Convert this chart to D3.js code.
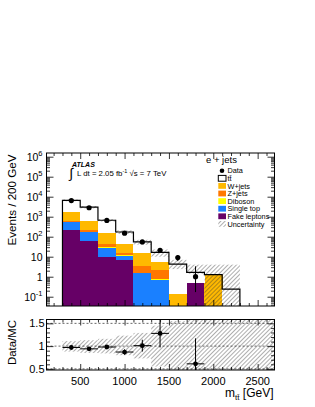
<!DOCTYPE html>
<html>
<head>
<meta charset="utf-8">
<script src="https://cdn.jsdelivr.net/npm/d3@7"></script>
<style>
  body { margin: 0; background: #fff; }
  svg { display: block; font-family: "Liberation Sans", Arial, sans-serif; }
</style>
</head>
<body>
<svg width="315" height="407"></svg>
<script>
// bins of 200 GeV
const binLow  = [300, 500, 700, 900, 1100, 1300, 1500, 1700, 1900, 2100];
const binHigh = [500, 700, 900, 1100, 1300, 1500, 1700, 1900, 2100, 2300];

// stacked backgrounds, bottom to top
const fakeLeptons = [224, 58, 9.6, 7.2, 0, 0, 0, 0.5, 0, 0];
const singleTop   = [300, 107, 19, 4.2, 1.5, 0.72, 0, 0, 0, 0];
const diboson     = [8, 3, 1, 0.3, 0.1, 0.05, 0, 0, 0, 0];
const zJets       = [100, 57, 13, 3.3, 1.7, 1.3, 0, 0, 0, 0];
const wJets       = [1008, 405, 110, 28, 11.7, 3.1, 0.14, 0, 1.26, 0];
const ttbar       = [4960, 2370, 510, 129, 39.5, 11.2, 4.16, 1.15, 0, 0.24];

// uncertainty band on the total
const uncLow  = [5900, 2600, 570, 138, 40, 10, 2.4, 1.4, 0.001, 0.001];
const uncHigh = [7300, 3400, 760, 208, 70, 23, 7, 4, 4, 4];

// data
const dataMass    = [400, 600, 800, 1000, 1200, 1400, 1600, 1800];
const dataEvents  = [6400, 2800, 650, 150, 55, 21, 9, 1];
const dataErrLow  = [80, 53, 25, 12, 7.4, 4.6, 3, 0.83];
const dataErrHigh = [80, 53, 25, 12, 7.4, 4.6, 3, 2.3];

// ratio panel
const ratioMass    = [400, 600, 800, 1000, 1200, 1400, 1800];
const ratioValue   = [0.97, 0.94, 0.98, 0.87, 1.01, 1.28, 0.61];
const ratioErrLow  = [0.03, 0.03, 0.04, 0.06, 0.13, 0.31, 0.6];
const ratioErrHigh = [0.03, 0.03, 0.04, 0.06, 0.13, 0.31, 0.56];
const ratioBandLow  = [0.88, 0.85, 0.84, 0.80, 0.73, 0.55, 0, 0, 0, 0, 0, 0];
const ratioBandHigh = [1.11, 1.13, 1.16, 1.23, 1.29, 1.45, 1.55, 2, 2, 2, 2, 2];
const ratioBinLow   = [300, 500, 700, 900, 1100, 1300, 1500, 1700, 1900, 2100, 2300, 2500];

const layerNames  = ["fake", "stop", "dib", "z", "w", "tt"];
const layerColors = ["#660066", "#1a80ff", "#ffff00", "#ff7700", "#ffb900", "#ffffff"];

const legendLabels = ["Data", "tt\u0304", "W+jets", "Z+jets", "Diboson", "Single top", "Fake leptons", "Uncertainty"];
const xTickLabels = [500, 1000, 1500, 2000, 2500];
const yMainTicks = [0.1, 1, 10, 100, 1e3, 1e4, 1e5, 1e6];
const yRatioTicks = [0.5, 1, 1.5];

const svg = d3.select("svg");

const L = 46.5, R = 274.5;
const mainTop = 153, mainBot = 306;
const ratTop = 319.5, ratBot = 370;

const x = d3.scaleLinear().domain([120, 2690]).range([L, R]);
const y = d3.scaleLog().domain([0.0343, 1.53e6]).range([mainBot, mainTop]);
const yr = d3.scaleLinear().domain([0.475, 1.585]).range([ratBot, ratTop]);
const yMin = y.domain()[0];

// hatch pattern
const defs = svg.append("defs");
defs.append("pattern")
    .attr("id", "hatch")
    .attr("patternUnits", "userSpaceOnUse")
    .attr("width", 3).attr("height", 3)
    .attr("patternTransform", "rotate(45)")
  .append("line")
    .attr("x1", 0).attr("y1", 0).attr("x2", 0).attr("y2", 3)
    .attr("stroke", "#333").attr("stroke-width", 0.8);
defs.append("clipPath").attr("id", "clipMain")
  .append("rect").attr("x", L).attr("y", mainTop).attr("width", R - L).attr("height", mainBot - mainTop);
defs.append("clipPath").attr("id", "clipRatio")
  .append("rect").attr("x", L).attr("y", ratTop).attr("width", R - L).attr("height", ratBot - ratTop);

// ---------- main panel ----------
const table = binLow.map((lo, i) => ({
  lo: lo, hi: binHigh[i],
  fake: fakeLeptons[i], stop: singleTop[i], dib: diboson[i],
  z: zJets[i], w: wJets[i], tt: ttbar[i]
}));
const series = d3.stack().keys(layerNames)(table);

const gMain = svg.append("g").attr("clip-path", "url(#clipMain)");

series.forEach((s, k) => {
  gMain.append("g").attr("shape-rendering", "crispEdges").selectAll("rect")
    .data(s.filter(d => d[1] - d[0] > 0))
    .enter().append("rect")
    .attr("x", d => x(d.data.lo))
    .attr("width", d => x(d.data.hi) - x(d.data.lo) + 0.5)
    .attr("y", d => y(d[1]))
    .attr("height", d => y(Math.max(d[0], yMin)) - y(d[1]))
    .attr("fill", layerColors[k]);
});

// uncertainty band
gMain.append("g").selectAll("rect")
  .data(binLow.map((lo, i) => ({ lo: lo, hi: binHigh[i], a: uncLow[i], b: uncHigh[i] })))
  .enter().append("rect")
  .attr("x", d => x(d.lo))
  .attr("width", d => x(d.hi) - x(d.lo))
  .attr("y", d => y(d.b))
  .attr("height", d => y(Math.max(d.a, yMin)) - y(d.b))
  .attr("fill", "url(#hatch)");

// total MC outline
const totalLayer = series[series.length - 1];
const pts = [[x(binLow[0]), mainBot]];
totalLayer.forEach(d => {
  pts.push([x(d.data.lo), y(d[1])]);
  pts.push([x(d.data.hi), y(d[1])]);
});
pts.push([x(binHigh[binHigh.length - 1]), mainBot]);
gMain.append("path")
  .attr("d", d3.line()(pts))
  .attr("fill", "none").attr("stroke", "#000").attr("stroke-width", 1.2);

// data
const gData = gMain.append("g");
dataMass.forEach((m, i) => {
  gData.append("line")
    .attr("x1", x(m)).attr("x2", x(m))
    .attr("y1", y(dataEvents[i] + dataErrHigh[i]))
    .attr("y2", y(Math.max(dataEvents[i] - dataErrLow[i], yMin)))
    .attr("stroke", "#000").attr("stroke-width", 1);
  gData.append("circle")
    .attr("cx", x(m)).attr("cy", y(dataEvents[i])).attr("r", 2.6).attr("fill", "#000");
});

// ---------- ratio panel ----------
const gRat = svg.append("g").attr("clip-path", "url(#clipRatio)");
gRat.selectAll("line.grid")
  .data(yRatioTicks).enter().append("line")
  .attr("x1", L).attr("x2", R)
  .attr("y1", d => yr(d)).attr("y2", d => yr(d))
  .attr("stroke", "#444").attr("stroke-width", 0.8).attr("stroke-dasharray", "2,2");

gRat.append("g").selectAll("rect")
  .data(ratioBinLow.map((lo, i) => ({ lo: lo, a: ratioBandLow[i], b: ratioBandHigh[i] })))
  .enter().append("rect")
  .attr("x", d => x(d.lo))
  .attr("width", d => x(d.lo + 200) - x(d.lo))
  .attr("y", d => yr(d.b))
  .attr("height", d => yr(d.a) - yr(d.b))
  .attr("fill", "url(#hatch)");

ratioMass.forEach((m, i) => {
  gRat.append("line")
    .attr("x1", x(m - 100)).attr("x2", x(m + 100))
    .attr("y1", yr(ratioValue[i])).attr("y2", yr(ratioValue[i]))
    .attr("stroke", "#000").attr("stroke-width", 1);
  gRat.append("line")
    .attr("x1", x(m)).attr("x2", x(m))
    .attr("y1", yr(ratioValue[i] + ratioErrHigh[i]))
    .attr("y2", yr(ratioValue[i] - ratioErrLow[i]))
    .attr("stroke", "#000").attr("stroke-width", 1);
  gRat.append("circle")
    .attr("cx", x(m)).attr("cy", yr(ratioValue[i])).attr("r", 2.4).attr("fill", "#000");
});

// ---------- axes ----------
function ticks(g, axis) {
  g.call(axis);
  g.select(".domain").remove();
  g.selectAll("line").attr("stroke", "#000").attr("stroke-width", 0.8);
}
const xMinor = d3.range(200, 2700, 100).filter(v => v % 500 !== 0);
const yMinor = [];
for (let e = -2; e <= 6; e++) for (let k = 2; k <= 9; k++) {
  const v = k * Math.pow(10, e);
  if (v > y.domain()[0] && v < y.domain()[1]) yMinor.push(v);
}
const yrMinor = d3.range(0.5, 1.6, 0.1).map(v => +v.toFixed(1)).filter(v => !yRatioTicks.includes(v));

[[mainTop, mainBot], [ratTop, ratBot]].forEach(([t, b]) => {
  ticks(svg.append("g").attr("transform", `translate(0,${b})`),
    d3.axisBottom(x).tickValues(xTickLabels).tickSize(-6).tickFormat(""));
  ticks(svg.append("g").attr("transform", `translate(0,${b})`),
    d3.axisBottom(x).tickValues(xMinor).tickSize(-3).tickFormat(""));
  ticks(svg.append("g").attr("transform", `translate(0,${t})`),
    d3.axisTop(x).tickValues(xTickLabels).tickSize(-6).tickFormat(""));
  ticks(svg.append("g").attr("transform", `translate(0,${t})`),
    d3.axisTop(x).tickValues(xMinor).tickSize(-3).tickFormat(""));
});

[[L, d3.axisLeft], [R, d3.axisRight]].forEach(([px, ax]) => {
  ticks(svg.append("g").attr("transform", `translate(${px},0)`),
    ax(y).tickValues(yMainTicks).tickSize(-7).tickFormat(""));
  ticks(svg.append("g").attr("transform", `translate(${px},0)`),
    ax(y).tickValues(yMinor).tickSize(-3.5).tickFormat(""));
  ticks(svg.append("g").attr("transform", `translate(${px},0)`),
    ax(yr).tickValues(yRatioTicks).tickSize(-7).tickFormat(""));
  ticks(svg.append("g").attr("transform", `translate(${px},0)`),
    ax(yr).tickValues(yrMinor).tickSize(-3.5).tickFormat(""));
});

// frames
[[mainTop, mainBot], [ratTop, ratBot]].forEach(([t, b]) => {
  svg.append("rect").attr("x", L).attr("y", t).attr("width", R - L).attr("height", b - t)
    .attr("fill", "none").attr("stroke", "#000").attr("stroke-width", 1);
});

// y labels main
const yLab = svg.append("g").attr("font-size", 10.5).attr("text-anchor", "end");
yMainTicks.forEach(v => {
  const e = Math.round(Math.log10(v));
  const t = yLab.append("text").attr("x", 42.5).attr("y", y(v) + 4);
  if (e === 0) t.text("1");
  else if (e === 1) t.text("10");
  else {
    t.append("tspan").text("10");
    t.append("tspan").attr("dy", -4.5).attr("font-size", 7.5).text(e);
  }
});

// ratio y labels
svg.append("g").attr("font-size", 11).attr("text-anchor", "end")
  .selectAll("text").data(yRatioTicks).enter().append("text")
  .attr("x", 44.5).attr("y", d => yr(d) + 4)
  .text(d => d);

// x labels
svg.append("g").attr("font-size", 11).attr("text-anchor", "middle")
  .selectAll("text").data(xTickLabels).enter().append("text")
  .attr("x", d => x(d)).attr("y", 385)
  .text(d => d);

// axis titles
svg.append("text").attr("transform", "translate(16,200) rotate(-90)")
  .attr("text-anchor", "middle").attr("font-size", 11.6).text("Events / 200 GeV");
svg.append("text").attr("transform", "translate(16,342.5) rotate(-90)")
  .attr("text-anchor", "middle").attr("font-size", 11.4).text("Data/MC");
const xt = svg.append("text").attr("x", 273.5).attr("y", 396.5)
  .attr("text-anchor", "end").attr("font-size", 12);
xt.append("tspan").text("m");
xt.append("tspan").attr("dy", 3).attr("font-size", 8).text("tt\u0304");
xt.append("tspan").attr("dy", -3).text(" [GeV]");

// ATLAS labels
svg.append("text").attr("x", 72).attr("y", 167).attr("font-size", 7)
  .attr("font-weight", "bold").attr("font-style", "italic").text("ATLAS");
svg.append("text").attr("x", 69.5).attr("y", 178).attr("font-size", 14).text("\u222B");
const lumi = svg.append("text").attr("x", 77).attr("y", 175.5).attr("font-size", 7.8);
lumi.append("tspan").text("L dt = 2.05 fb");
lumi.append("tspan").attr("dy", -3).attr("font-size", 5.5).text("-1");
lumi.append("tspan").attr("dy", 3).text(" \u221As = 7 TeV");

svg.append("text").attr("x", 206).attr("y", 163).attr("font-size", 9.5).text("e + jets");

// legend
const leg = svg.append("g").attr("font-size", 7.3);
legendLabels.forEach((lab, i) => {
  const cy = 170.7 + i * 7.6;
  if (i === 0) {
    leg.append("circle").attr("cx", 222).attr("cy", cy).attr("r", 2.3).attr("fill", "#000");
  } else {
    const fill = i === 7 ? "url(#hatch)" : (i === 1 ? "#fff" : layerColors[6 - i]);
    leg.append("rect").attr("x", 218.3).attr("y", cy - 2.9).attr("width", 7.7).attr("height", 5.8)
      .attr("fill", fill)
      .attr("stroke", i === 1 ? "#000" : "none").attr("stroke-width", 1);
  }
  leg.append("text").attr("x", 227.5).attr("y", cy + 2.6).text(lab);
});
</script>
</body>
</html>
